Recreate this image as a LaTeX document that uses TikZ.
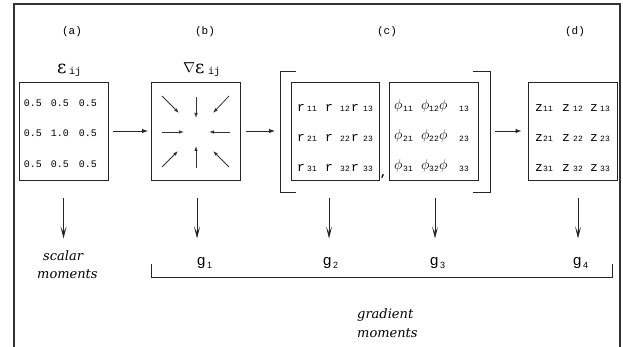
\documentclass[tikz,border=0pt]{standalone}
\usepackage{fontspec}
\setmainfont{Liberation Serif}
\newfontfamily\monofam{Liberation Mono}
\newfontfamily\sansfam{Liberation Sans}
\newfontfamily\slantfam{DejaVu Serif}
\usetikzlibrary{arrows.meta}

\begin{document}
\begin{tikzpicture}[x=1pt,y=-1pt,
  frame/.style={draw=black!80,line width=1.3pt},
  cell/.style={draw=black!85,line width=1pt,rectangle,minimum width=89pt,minimum height=98pt,inner sep=0pt},
  brk/.style={draw=black!85,line width=1pt},
  flow/.style={draw=black!85,line width=0.9pt,-{Latex[length=6pt,width=4.5pt]}},
  inner/.style={draw=black!80,line width=0.8pt,-{Latex[length=5pt,width=3.5pt]}},
  down/.style={draw=black!85,line width=0.9pt,-{Stealth[length=12pt,width=6pt,inset=6pt]}},
  tag/.style={font=\monofam\fontsize{11}{13}\selectfont,inner sep=0pt},
  num/.style={font=\monofam\fontsize{10}{12}\selectfont,inner sep=0pt,anchor=base},
  letter/.style={font=\monofam\fontsize{13}{15}\selectfont,inner sep=0pt,anchor=base west},
  greek/.style={font=\fontsize{15}{17}\selectfont,inner sep=0pt,anchor=base west},
  subs/.style={font=\monofam\fontsize{8}{10}\selectfont,inner sep=0pt,anchor=base west},
  gname/.style={font=\sansfam\fontsize{15}{17}\selectfont,inner sep=0pt,anchor=base west},
  gsub/.style={font=\sansfam\fontsize{9}{11}\selectfont,inner sep=0pt,anchor=base west},
  remark/.style={font=\slantfam\itshape\fontsize{13}{15}\selectfont,inner sep=0pt,anchor=base west},
  eps/.style={font=\slantfam\fontsize{18}{20}\selectfont,inner sep=0pt,anchor=base west},
  idx/.style={font=\monofam\fontsize{10}{12}\selectfont,inner sep=0pt,anchor=base west},
]
\useasboundingbox (0,0) rectangle (623,347);
\fill[white] (0,0) rectangle (623,347);

% outer frame (open at the bottom edge)
\draw[frame] (14,347) -- (14,4) -- (620,4) -- (620,347);

% panel captions
\node[tag] (ta) at (72,32) {(a)};
\node[tag] (tb) at (205,32) {(b)};
\node[tag] (tc) at (387,32) {(c)};
\node[tag] (td) at (575,32) {(d)};

% boxes
\node[cell] (A) at (63.5,132) {};
\node[cell] (B) at (196,132) {};
\node[cell,minimum width=88pt] (R) at (335,132) {};
\node[cell] (P) at (434,132) {};
\node[cell] (D) at (572.5,132) {};

% box titles
\node[eps] (epsA) at (57,74) {ε};
\node[idx] (ijA) at (69,75) {ij};
\node[font=\fontsize{14}{16}\selectfont,inner sep=0pt,anchor=base west] (nabB) at (183,73) {$\nabla$};
\node[eps] (epsB) at (195,74) {ε};
\node[idx] (ijB) at (208,75) {ij};

% values in box (a)
\foreach \r/\y/\m in {1/107/0.5,2/137/1.0,3/168/0.5}{
  \node[num] (a\r1) at (33,\y) {0.5};
  \node[num] (a\r2) at (60,\y) {\m};
  \node[num] (a\r3) at (88,\y) {0.5};
}

% gradient directions in box (b)
\draw[inner] ([shift={(-34,35)}]B.center) -- ([shift={(-18,19)}]B.center);
\draw[inner] ([shift={(0,36)}]B.center) -- ([shift={(0,14)}]B.center);
\draw[inner] ([shift={(33,35)}]B.center) -- ([shift={(17,19)}]B.center);
\draw[inner] ([shift={(-34,0)}]B.center) -- ([shift={(-12,0)}]B.center);
\draw[inner] ([shift={(34,0)}]B.center) -- ([shift={(13,0)}]B.center);
\draw[inner] ([shift={(-34,-36)}]B.center) -- ([shift={(-17,-19)}]B.center);
\draw[inner] ([shift={(0,-35)}]B.center) -- ([shift={(0,-14)}]B.center);
\draw[inner] ([shift={(33,-36)}]B.center) -- ([shift={(17,-19)}]B.center);

% entries r_ij, phi_ij, z_ij
\foreach \r/\y in {1/112,2/142,3/172}{
  \foreach \c/\lx/\sx in {1/297/307,2/325/340,3/351/363}{
    \node[letter] (r\r\c) at (\lx,\y) {r};
    \node[subs] (rs\r\c) at (\sx,\y) {\r\c};
  }
  \foreach \c/\lx/\sx in {1/394/403,2/421/429,3/439/459}{
    \node[greek] (p\r\c) at (\lx,\y-2) {$\phi$};
    \node[subs] (ps\r\c) at (\sx,\y) {\r\c};
  }
  \foreach \c/\lx/\sx in {1/535/543,2/562/573,3/590/600}{
    \node[letter] (z\r\c) at (\lx,\y) {z};
    \node[subs] (zs\r\c) at (\sx,\y) {\r\c};
  }
}
\node[font=\monofam\bfseries\fontsize{12}{14}\selectfont,inner sep=0pt,anchor=base] (comma) at (383.5,177) {,};

% square brackets around (c)
\coordinate (LB) at (280,132);
\coordinate (RB) at (490,132);
\draw[brk] (296,72) -- (280,72) -- (280,193) -- (296,193);
\draw[brk] (473,72) -- (490,72) -- (490,193) -- (473,193);

% flow between panels
\draw[flow] ([shift={(4,-1)}]A.east) -- ([shift={(-3,-1)}]B.west);
\draw[flow] ([shift={(5,-1)}]B.east) -- ([shift={(-5,-1)}]LB);
\draw[flow] ([shift={(5,-1)}]RB) -- ([shift={(-6,-1)}]D.west);

% moment labels
\node[remark] (sc1) at (43,260) {scalar};
\node[remark] (sc2) at (37,278) {moments};
\node[gname] (g1) at (197,265) {g};
\node[gsub] (g1s) at (207,268) {1};
\node[gname] (g2) at (323,265) {g};
\node[gsub] (g2s) at (333,268) {2};
\node[gname] (g3) at (430,265) {g};
\node[gsub] (g3s) at (440,268) {3};
\node[gname] (g4) at (573,265) {g};
\node[gsub] (g4s) at (583,268) {4};
\node[remark] (gr1) at (357,318) {gradient};
\node[remark] (gr2) at (357,337) {moments};

% arrows down to the moments
\draw[down] ([yshift=-17pt]A.south) -- ([yshift=-57pt]A.south);
\draw[down] ([xshift=1pt,yshift=-17pt]B.south) -- ([xshift=1pt,yshift=-57pt]B.south);
\draw[down] ([xshift=-6pt,yshift=-17pt]R.south) -- ([xshift=-6pt,yshift=-57pt]R.south);
\draw[down] ([xshift=1pt,yshift=-17pt]P.south) -- ([xshift=1pt,yshift=-57pt]P.south);
\draw[down] ([xshift=5.5pt,yshift=-17pt]D.south) -- ([xshift=5.5pt,yshift=-57pt]D.south);

% bracket grouping the gradient moments
\draw[brk] (151,264) -- (151,277) -- (612,277) -- (612,264);
\end{tikzpicture}
\end{document}
